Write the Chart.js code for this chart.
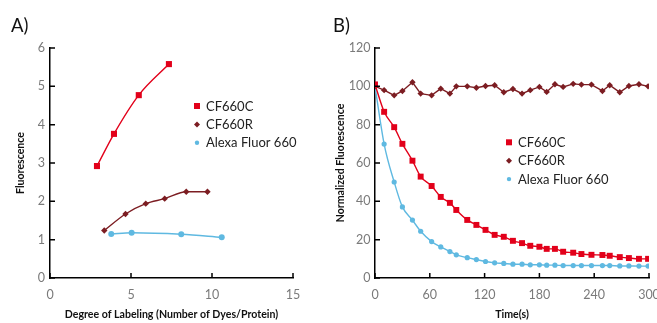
<!DOCTYPE html>
<html><head><meta charset="utf-8">
<script src="https://cdn.jsdelivr.net/npm/chart.js@4.4.1/dist/chart.umd.min.js"></script>
<style>
html,body{margin:0;padding:0;width:657px;height:323px;overflow:hidden;background:#fff}
#wa{position:absolute;left:0;top:0;width:330px;height:323px}
#wb{position:absolute;left:330px;top:0;width:340px;height:323px}
.lab{position:absolute;font:18.5px Lato, sans-serif;color:#111;line-height:18px;z-index:2}
</style></head><body>
<div class="lab" style="left:11px;top:16px">A)</div>
<div class="lab" style="left:333px;top:16px">B)</div>
<div id="wa"><canvas id="ca" width="330" height="323"></canvas></div>
<div id="wb"><canvas id="cb" width="340" height="323"></canvas></div>
<script>
// ---- Panel A data ----
const seriesNames = ['CF660C', 'CF660R', 'Alexa Fluor 660'];
const dolC = [2.9, 3.95, 5.48, 7.34];
const fluorC = [2.92, 3.76, 4.77, 5.58];
const dolR = [3.35, 4.66, 5.91, 7.08, 8.41, 9.72];
const fluorR = [1.24, 1.67, 1.94, 2.07, 2.25, 2.25];
const dolA = [3.78, 5.04, 8.1, 10.6];
const fluorA = [1.15, 1.18, 1.14, 1.06];
const xTicksA = [0, 5, 10, 15];
const yTicksA = [0, 1, 2, 3, 4, 5, 6];

// ---- Panel B data ----
const timeS = [0,10,21,30,41,50,62,72,82,89,101,111,121,131,141,151,161,170,180,188,197,206,217,226,237,249,257,268,278,289,299];
const normC = [101,86.7,78.7,70.0,61.2,52.9,48.0,42.3,39.2,35.5,30.3,27.7,25.1,22.5,21.5,19.4,18.2,16.8,16.3,15.2,15.2,13.7,13.2,12.5,12.1,12.0,11.6,10.9,10.4,10.0,10.0];
const normR = [100,98,95.3,97.6,102.1,96.2,95.3,98.8,96.2,100,100,99.3,100.2,100.6,96.9,98.6,96.2,98,99.7,97.1,101.1,99.7,101.3,100.9,100.9,97.6,100.6,96.9,100.2,101.1,100];
const normA = [100,69.9,50.1,37.1,30.2,24.4,19.0,16.2,13.8,12.1,10.6,9.6,8.6,7.9,7.6,7.2,7.2,6.9,6.9,6.7,6.7,6.5,6.5,6.5,6.5,6.5,6.5,6.3,6.3,6.2,6.2];
const xTicksB = [0, 60, 120, 180, 240, 300];
const yTicksB = [0, 20, 40, 60, 80, 100, 120];

const RED = '#E2001A', DARK = '#7C1D22', BLUE = '#5FB9E1';
const FONT = 'Lato, "Open Sans", sans-serif';

function pts(xs, ys) { return xs.map((x, i) => ({x: x, y: ys[i]})); }

const inwardTicks = {
  id: 'inwardTicks',
  afterDatasetsDraw(chart) {
    const {ctx, chartArea: a, scales: {x, y}} = chart;
    ctx.save();
    ctx.strokeStyle = '#000'; ctx.lineWidth = 1.5;
    ctx.beginPath();
    x.ticks.forEach((t, i) => { const px = x.getPixelForTick(i); ctx.moveTo(px, a.bottom); ctx.lineTo(px, a.bottom - 5); });
    y.ticks.forEach((t, i) => { const py = y.getPixelForTick(i); ctx.moveTo(a.left, py); ctx.lineTo(a.left + 5, py); });
    ctx.stroke();
    ctx.restore();
  }
};

function drawMarker(ctx, style, r, cx, cy, color) {
  ctx.fillStyle = color;
  ctx.beginPath();
  if (style === 'rect') { ctx.rect(cx - r, cy - r, 2 * r, 2 * r); }
  else if (style === 'rectRot') { ctx.moveTo(cx, cy - r); ctx.lineTo(cx + r, cy); ctx.lineTo(cx, cy + r); ctx.lineTo(cx - r, cy); ctx.closePath(); }
  else { ctx.arc(cx, cy, r, 0, Math.PI * 2); }
  ctx.fill();
}

const innerLegend = {
  id: 'innerLegend',
  afterDraw(chart, args, opts) {
    const {ctx, chartArea: a} = chart;
    ctx.save();
    ctx.font = '13px ' + FONT;
    ctx.textBaseline = 'middle';
    ctx.textAlign = 'left';
    chart.data.datasets.forEach((ds, i) => {
      const cx = a.left + opts.dx, cy = a.top + opts.dy + i * opts.gap;
      drawMarker(ctx, ds.pointStyle, opts.sizes[i], cx, cy, ds.pointBackgroundColor);
      ctx.fillStyle = '#222';
      ctx.fillText(ds.label, cx + 9, cy + 0.5);
    });
    ctx.restore();
  }
};

function axisCommon(min, max, ticksArr, titleText, isX, fit, titlePad, tickPad) {
  return {
    type: 'linear', min: min, max: max,
    afterBuildTicks(s) { s.ticks = ticksArr.map(v => ({value: v})); },
    ticks: { color: '#7a7a7a', font: {family: FONT, size: 12.5}, padding: tickPad, maxRotation: 0, autoSkip: false },
    grid: { display: false, drawTicks: false },
    border: { display: true, color: '#000', width: 1.5 },
    title: { display: true, text: titleText, color: '#111', font: {family: FONT, size: 10.6, weight: 'bold'}, padding: titlePad },
    afterFit(s) { if (isX) s.height = fit; else s.width = fit; }
  };
}

new Chart(document.getElementById('ca'), {
  type: 'scatter',
  data: { datasets: [
    { label: seriesNames[0], data: pts(dolC, fluorC), showLine: true, borderColor: RED, backgroundColor: RED, pointBackgroundColor: RED, pointStyle: 'rect', pointRadius: 4.3, pointBorderWidth: 0, borderWidth: 1.4, cubicInterpolationMode: 'monotone' },
    { label: seriesNames[1], data: pts(dolR, fluorR), showLine: true, borderColor: DARK, backgroundColor: DARK, pointBackgroundColor: DARK, pointStyle: 'rectRot', pointRadius: 3.2, pointBorderWidth: 0, borderWidth: 1.4, cubicInterpolationMode: 'monotone' },
    { label: seriesNames[2], data: pts(dolA, fluorA), showLine: true, borderColor: BLUE, backgroundColor: BLUE, pointBackgroundColor: BLUE, pointStyle: 'circle', pointRadius: 3, pointBorderWidth: 0, borderWidth: 1.4, cubicInterpolationMode: 'monotone' }
  ]},
  options: {
    responsive: false, animation: false, events: [],
    layout: { padding: { top: 48, right: 37, bottom: 0, left: 0 } },
    plugins: { legend: { display: false }, tooltip: { enabled: false },
      innerLegend: { dx: 147, dy: 58, gap: 18.4, sizes: [3, 3, 2.2] } },
    scales: {
      x: axisCommon(0, 15, xTicksA, 'Degree of Labeling (Number of Dyes/Protein)', true, 45, {top: 0, bottom: 2}, 9),
      y: axisCommon(0, 6, yTicksA, 'Fluorescence', false, 50, {top: 14.5, bottom: 0}, 5)
    }
  },
  plugins: [inwardTicks, innerLegend]
});

new Chart(document.getElementById('cb'), {
  type: 'scatter',
  data: { datasets: [
    { label: seriesNames[0], data: pts(timeS, normC), showLine: true, borderColor: RED, backgroundColor: RED, pointBackgroundColor: RED, pointStyle: 'rect', pointRadius: 4.2, pointBorderWidth: 0, borderWidth: 1.4, cubicInterpolationMode: 'monotone' },
    { label: seriesNames[1], data: pts(timeS, normR), showLine: true, borderColor: DARK, backgroundColor: DARK, pointBackgroundColor: DARK, pointStyle: 'rectRot', pointRadius: 3.2, pointBorderWidth: 0, borderWidth: 1.4, tension: 0 },
    { label: seriesNames[2], data: pts(timeS, normA), showLine: true, borderColor: BLUE, backgroundColor: BLUE, pointBackgroundColor: BLUE, pointStyle: 'circle', pointRadius: 2.6, pointBorderWidth: 0, borderWidth: 1.4, cubicInterpolationMode: 'monotone' }
  ]},
  options: {
    responsive: false, animation: false, events: [],
    layout: { padding: { top: 48, right: 21, bottom: 0, left: 0 } },
    plugins: { legend: { display: false }, tooltip: { enabled: false },
      innerLegend: { dx: 134, dy: 94.3, gap: 18.4, sizes: [3, 3, 2.2] } },
    scales: {
      x: axisCommon(0, 300, xTicksB, 'Time(s)', true, 45, {top: 0, bottom: 2}, 9),
      y: axisCommon(0, 120, yTicksB, 'Normalized Fluorescence', false, 45, {top: 4, bottom: 0}, 4.5)
    }
  },
  plugins: [inwardTicks, innerLegend]
});
</script>
</body></html>
